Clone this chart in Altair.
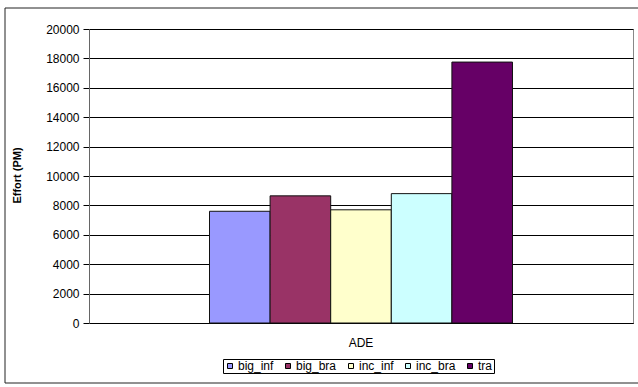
import altair as alt
import pandas as pd

# Effort estimates for the ADE project under each model variant
models = ["big_inf", "big_bra", "inc_inf", "inc_bra", "tra"]
efforts = [7600, 8650, 7700, 8800, 17750]
project = ["ADE"] * len(models)
colors = ["#9999FF", "#993366", "#FFFFCC", "#CCFFFF", "#660066"]
y_ticks = list(range(0, 20001, 2000))

df = pd.DataFrame({"project": project, "model": models, "effort": efforts})

FONT = "Liberation Sans"

bars = alt.Chart(df).mark_bar(stroke="#111111", strokeWidth=1).encode(
    x=alt.X(
        "project:N",
        title=None,
        scale=alt.Scale(paddingInner=0, paddingOuter=0.3977),
        axis=alt.Axis(
            labelAngle=0, ticks=False, domainColor="#000000", labelPadding=14,
            labelFontSize=12, labelFont=FONT, labelColor="#000000",
        ),
    ),
    xOffset=alt.XOffset(
        "model:N", sort=models, scale=alt.Scale(paddingInner=0, paddingOuter=0)
    ),
    y=alt.Y(
        "effort:Q",
        title="Effort (PM)",
        scale=alt.Scale(domain=[0, 20000], nice=False),
        axis=alt.Axis(
            values=y_ticks, format="d", grid=True, gridColor="#000000",
            gridWidth=1, tickColor="#000000", tickSize=6, labelPadding=4,
            domainColor="#666666", labelFontSize=12, labelFont=FONT,
            labelColor="#000000", titleFont=FONT, titleFontSize=11,
            titleFontWeight="bold", titleColor="#000000",
            titleX=-72, titleY=146, titleAngle=270, titleBaseline="middle",
        ),
    ),
    color=alt.Color(
        "model:N",
        sort=models,
        scale=alt.Scale(domain=models, range=colors),
        legend=alt.Legend(
            title=None, orient="none", legendX=134, legendY=330,
            direction="horizontal", columns=5, symbolType="square",
            symbolSize=25, symbolStrokeColor="#000000", symbolStrokeWidth=1,
            labelFontSize=12, labelFont=FONT, labelColor="#000000",
            columnPadding=8, labelOffset=2, strokeColor="#000000",
            padding=1, fillColor="#FFFFFF", rowPadding=0,
        ),
    ),
)

# Outer chart frame
frame_df = pd.DataFrame({"k": [0]})
frame = alt.Chart(frame_df).mark_rect(
    fill=None, stroke="#222222", strokeWidth=1
).encode(
    x=alt.value(-84), x2=alt.value(560), y=alt.value(-21), y2=alt.value(354)
)

chart = alt.layer(frame, bars).properties(
    width=544,
    height=294,
    padding={"left": 89, "top": 29, "right": 5, "bottom": 64},
    autosize=alt.AutoSizeParams(type="none"),
    background="#FFFFFF",
).configure_view(stroke="#888888", strokeWidth=1)

chart.save("out.html", embed_options={"renderer": "svg", "actions": False})
